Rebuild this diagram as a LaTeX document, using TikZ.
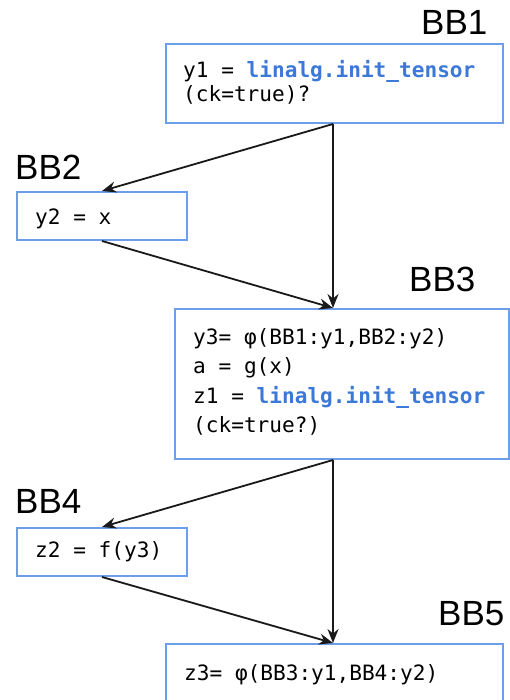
\documentclass[tikz,border=0pt]{standalone}
\usepackage{fontspec}
\setmainfont{Liberation Sans}
\newfontfamily\codefont{DejaVu Sans Mono}
\usetikzlibrary{arrows.meta}
\definecolor{boxblue}{HTML}{6D9EEB}
\definecolor{kwblue}{HTML}{3C78D8}
\newcommand{\kw}[1]{\textcolor{kwblue}{\bfseries #1}}
\tikzset{
  block/.style={draw=boxblue, line width=2pt, fill=white, anchor=north west, inner sep=0pt},
  code/.style={anchor=base west, inner sep=0pt, font=\codefont\fontsize{21.1}{24}\selectfont},
  bblabel/.style={anchor=base west, inner sep=0pt, font=\fontsize{35}{40}\selectfont},
  flow/.style={draw=black!90, line width=1.8pt, -{Stealth[length=14pt,width=11pt]}}
}
\begin{document}
\begin{tikzpicture}[x=1pt,y=-1pt]
\useasboundingbox (0,0) rectangle (509,700);

% basic blocks
\node[block, minimum width=337pt, minimum height=79pt] (bb1) at (165,43) {};
\node[block, minimum width=170pt, minimum height=48pt] (bb2) at (16,191) {};
\node[block, minimum width=334pt, minimum height=150pt] (bb3) at (174,308) {};
\node[block, minimum width=170pt, minimum height=48pt] (bb4) at (16,527) {};
\node[block, minimum width=337pt, minimum height=80pt] (bb5) at (165,643) {};

% block names
\node[bblabel] (l1) at (421,35) {BB1};
\node[bblabel] (l2) at (15,180) {BB2};
\node[bblabel] (l3) at (409,291) {BB3};
\node[bblabel] (l4) at (15,513) {BB4};
\node[bblabel] (l5) at (438,625) {BB5};

% block contents
\node[code] (c1a) at (183,78) {y1 = \kw{linalg.init\_tensor}};
\node[code] (c1b) at (183,102) {(ck=true)?};
\node[code] (c2) at (35,225) {y2 = x};
\node[code] (c3a) at (193,344) {y3= φ(BB1:y1,BB2:y2)};
\node[code] (c3b) at (193,373) {a = g(x)};
\node[code] (c3c) at (193,403) {z1 = \kw{linalg.init\_tensor}};
\node[code] (c3d) at (193,432) {(ck=true?)};
\node[code] (c4) at (35,557) {z2 = f(y3)};
\node[code] (c5) at (184,680) {z3= φ(BB3:y1,BB4:y2)};

% control-flow edges
\coordinate (o1) at ([xshift=-1.5pt]bb1.south);
\coordinate (i3) at ([xshift=-9pt]bb3.north);
\coordinate (o3) at ([xshift=-9pt]bb3.south);
\coordinate (i5) at ([xshift=-1.5pt]bb5.north);
\draw[flow] (o1) -- (bb2.north);
\draw[flow] (o1) -- (i3);
\draw[flow] (bb2.south) -- (i3);
\draw[flow] (o3) -- (bb4.north);
\draw[flow] (o3) -- (i5);
\draw[flow] (bb4.south) -- (i5);
\end{tikzpicture}
\end{document}
